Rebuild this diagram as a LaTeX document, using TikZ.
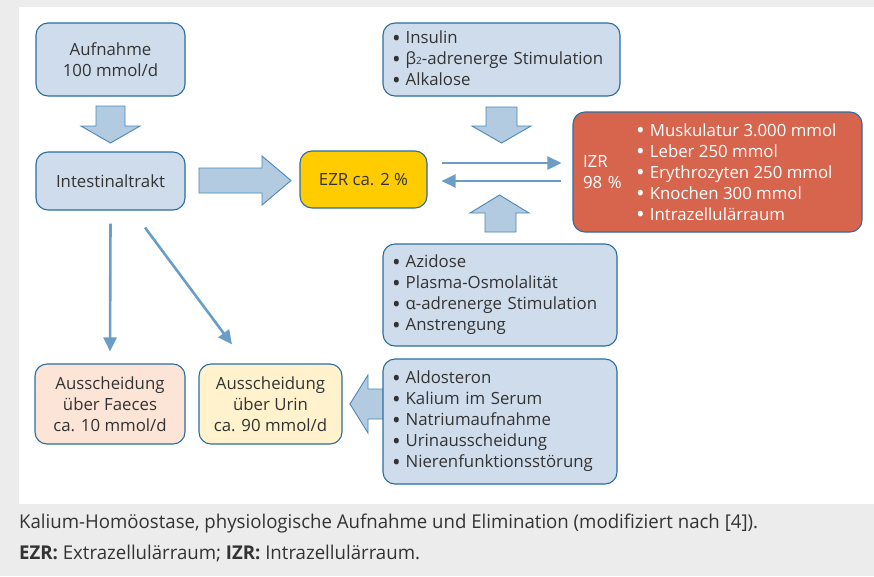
\documentclass[tikz,border=0pt]{standalone}
\usepackage{fontspec}
\setmainfont{Open Sans}
\newfontfamily\capfont[FakeStretch=0.98]{Open Sans}
\usetikzlibrary{arrows.meta,calc}
\definecolor{bg}{HTML}{ECECEC}
\definecolor{boxfill}{HTML}{CFDCEC}
\definecolor{boxline}{HTML}{2A6EA0}
\definecolor{arrfill}{HTML}{B3CBE1}
\definecolor{arrline}{HTML}{4A88B8}
\definecolor{thinc}{HTML}{6A9EC8}
\definecolor{izrc}{HTML}{D7654E}
\definecolor{ezrc}{HTML}{FFCC00}
\definecolor{faecesc}{HTML}{FCE4D6}
\definecolor{urinc}{HTML}{FFF2CC}
\definecolor{txt}{HTML}{333333}
\newcommand{\bul}{\raisebox{-2.4pt}{\fontsize{23}{21}\selectfont\textbullet}\hspace{5pt}}
\begin{document}
\begin{tikzpicture}[x=1pt,y=-1pt,
  font=\fontsize{16.8}{21}\selectfont, text=txt,
  box/.style={draw=boxline, line width=1.1pt, rounded corners=12pt, fill=boxfill,
    inner sep=0pt, align=center},
  listbox/.style={box, align=left, inner xsep=9pt},
  blockarrow/.style={draw=arrline, line width=0.9pt, fill=arrfill, line join=miter},
  thinarrow/.style={draw=thinc, line width=2.6pt, -{Triangle[length=14pt,width=13pt]}}]
\useasboundingbox (0,0) rectangle (874,576);
\fill[bg] (0,0) rectangle (874,576);
\fill[white] (19,7) rectangle (874,504);

% block arrows
\draw[blockarrow] (96,106)--(125,106)--(125,126)--(140,126)--(110.5,143)--(81,126)--(96,126)--cycle;
\draw[blockarrow] (199,168)--(262,168)--(262,156)--(291,180.5)--(262,205)--(262,193)--(199,193)--cycle;
\draw[blockarrow] (486,107)--(517,107)--(517,126)--(531,126)--(501.5,143)--(472,126)--(486,126)--cycle;
\draw[blockarrow] (485,232)--(516,232)--(516,213)--(529,213)--(499.5,195)--(470,213)--(485,213)--cycle;
\draw[blockarrow] (390,389)--(368,389)--(368,375)--(350,404)--(368,433)--(368,419)--(390,419);

% boxes
\node[box, minimum width=149pt, minimum height=73pt] (aufnahme) at (110.5,59.5) {Aufnahme\\100 mmol/d};
\node[box, minimum width=149pt, minimum height=58pt] (intestine) at (110.5,181) {Intestinaltrakt};
\node[box, fill=ezrc, minimum width=127pt, minimum height=57pt] (ezr) at (363.5,179.5) {EZR ca. 2 \%};
\node[listbox, text width=219pt, minimum height=73pt] (top) at (501.5,59.5)
  {\bul Insulin\\\bul β{\fontsize{10}{10}\selectfont 2}-adrenerge Stimulation\\\bul Alkalose};
\node[box, fill=izrc, text=white, align=left, inner xsep=10pt, text width=269pt, minimum height=120pt] (izr) at (717.5,172) {IZR\\98 \%};
\node[text=white, anchor=west, align=left, inner sep=0pt] (izrlist) at (636,173)
  {\bul Muskulatur 3.000 mmol\\\bul Leber 250 mmol\\\bul Erythrozyten 250 mmol\\\bul Knochen 300 mmol\\\bul Intrazellulärraum};
\node[listbox, text width=216pt, minimum height=102pt] (azidose) at (500,295)
  {\bul Azidose\\\bul Plasma-Osmolalität\\\bul α-adrenerge Stimulation\\\bul Anstrengung};
\node[listbox, text width=216pt, minimum height=125pt] (aldo) at (500,421.5)
  {\bul Aldosteron\\\bul Kalium im Serum\\\bul Natriumaufnahme\\\bul Urinausscheidung\\\bul Nierenfunktionsstörung};
\node[box, fill=faecesc, minimum width=150pt, minimum height=80pt] (faeces) at (110,404) {Ausscheidung\\über Faeces\\ca. 10 mmol/d};
\node[box, fill=urinc, minimum width=143pt, minimum height=80pt] (urin) at (270.5,404) {Ausscheidung\\über Urin\\ca. 90 mmol/d};

% thin arrows
\draw[thinarrow] ($(intestine.south)+(0,13)$) -- ($(faeces.north)+(0,-12)$);
\draw[thinarrow] ($(intestine.south)+(34.5,17)$) -- ($(urin.north)+(-38.5,-19)$);
\draw[thinarrow] ($(ezr.east)+(14,-16.5)$) -- ($(izr.west)+(-11,-9)$);
\draw[thinarrow] ($(izr.west)+(-11,9)$) -- ($(ezr.east)+(14,1.5)$);

% caption
\node[anchor=base west, inner sep=0pt, font=\capfont\fontsize{19}{22}\selectfont] (cap1) at (19,528)
  {Kalium-Homöostase, physiologische Aufnahme und Elimination (modifiziert nach [4]).};
\node[anchor=base west, inner sep=0pt, font=\capfont\fontsize{19}{22}\selectfont] (cap2) at (19,559)
  {\textbf{EZR:} Extrazellulärraum; \textbf{IZR:} Intrazellulärraum.};
\end{tikzpicture}
\end{document}
